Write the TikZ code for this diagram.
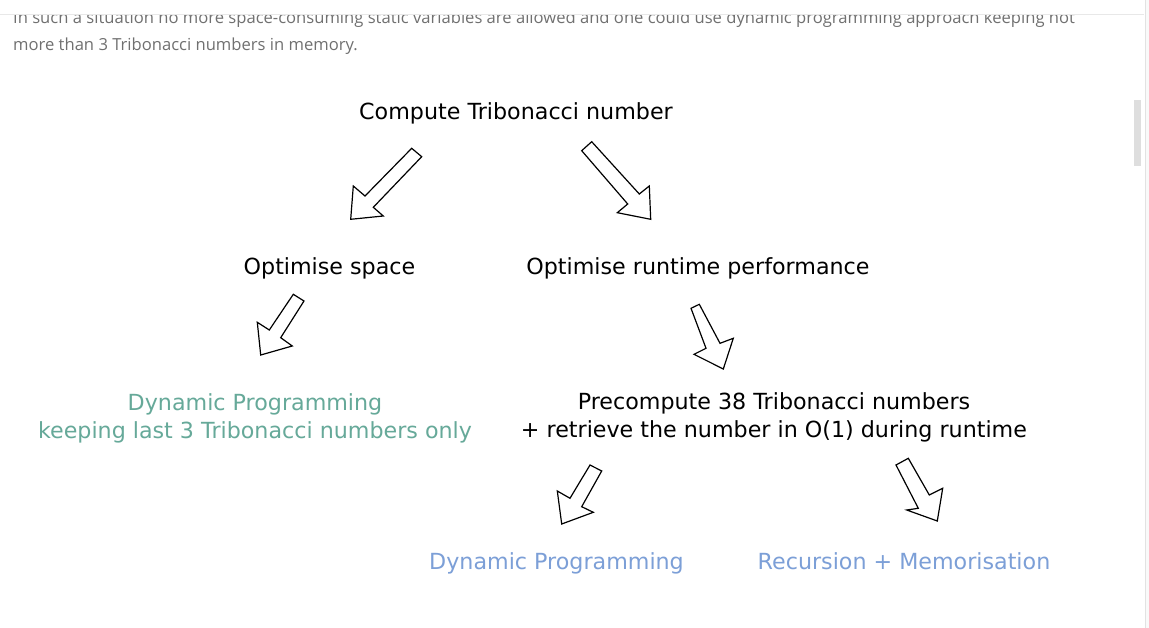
\documentclass[tikz,border=0pt]{standalone}
\usepackage{fontspec}
\setmainfont{DejaVu Sans}
\newfontfamily\pagefont{Open Sans}
\definecolor{dpgreen}{HTML}{66A999}
\definecolor{dpblue}{HTML}{7C9FD7}
\definecolor{pagegrey}{HTML}{707070}
\definecolor{ruleline}{HTML}{E8E8E8}
\definecolor{sbtrack}{HTML}{F9F9F9}
\definecolor{sbline}{HTML}{E2E2E2}
\definecolor{sbthumb}{HTML}{DEDEDE}
\begin{document}
\begin{tikzpicture}[x=1pt,y=-1pt,
  lbl/.style={anchor=base,inner sep=0pt,font=\fontsize{22.2}{28}\selectfont},
  lbl2/.style={anchor=base,inner sep=0pt,align=center,font=\fontsize{22.2}{28}\selectfont},
  pagetxt/.style={anchor=base west,inner sep=0pt,text=pagegrey,font=\pagefont\fontsize{16.6}{17}\selectfont},
  blockarrow/.style={draw=black,fill=white,line width=1.2pt,line join=miter}]
\useasboundingbox (0,0) rectangle (1149,628);
\fill[white] (0,0) rectangle (1149,628);
% page text
\node[pagetxt] (p1) at (13,24) {In such a situation no more space-consuming static variables are allowed and one could use dynamic programming approach keeping not};
\node[pagetxt] (p2) at (13,51) {more than 3 Tribonacci numbers in memory.};
\fill[white] (0,0) rectangle (1144,13.6);
\draw[line width=1pt,draw=ruleline] (0,14.3) -- (1144,14.3);
% scrollbar
\fill[sbtrack] (1145,0) rectangle (1149,628);
\draw[line width=1pt,draw=sbline] (1145.2,0) -- (1145.2,628);
\fill[sbthumb] (1134,100) rectangle (1141,165.7);
% labels
\node[lbl] (root) at (516,120) {Compute Tribonacci number};
\node[lbl] (space) at (329.5,275) {Optimise space};
\node[lbl] (runtime) at (698,275) {Optimise runtime performance};
\node[lbl2,text=dpgreen] (dp3) at (255,438) {Dynamic Programming\\keeping last 3 Tribonacci numbers only};
\node[lbl2] (pre) at (774,437) {Precompute 38 Tribonacci numbers\\+ retrieve the number in O(1) during runtime};
\node[lbl,text=dpblue] (dp) at (556.5,569) {Dynamic Programming};
\node[lbl,text=dpblue] (rec) at (904,569) {Recursion + Memorisation};
% block arrows
\draw[blockarrow] (411.7,148.3) -- (365,196) -- (353.3,186) -- (350.7,219.3) -- (383.3,216) -- (373.3,207.3) -- (421.7,156.7) -- cycle;
\draw[blockarrow] (591.7,141.7) -- (639.3,194) -- (649.3,186) -- (650.7,219.3) -- (617.3,212.7) -- (627.7,204) -- (581.7,150.7) -- cycle;
\draw[blockarrow] (293.3,294.3) -- (269.3,330) -- (257.3,322.3) -- (260.7,355) -- (292.3,346) -- (280.7,337.7) -- (304,301) -- cycle;
\draw[blockarrow] (691,308.3) -- (706,348.3) -- (694,354.3) -- (723.3,369) -- (733.3,338.3) -- (720,343.3) -- (699.3,304.3) -- cycle;
\draw[blockarrow] (590,465) -- (570,498.3) -- (557.3,491) -- (561.7,524) -- (593.3,512.3) -- (581.7,506.7) -- (601.7,471) -- cycle;
\draw[blockarrow] (896,465) -- (918.3,508.3) -- (906.7,510) -- (937.3,521) -- (942.7,488.3) -- (929.3,495) -- (908.3,458.3) -- cycle;
\end{tikzpicture}
\end{document}
